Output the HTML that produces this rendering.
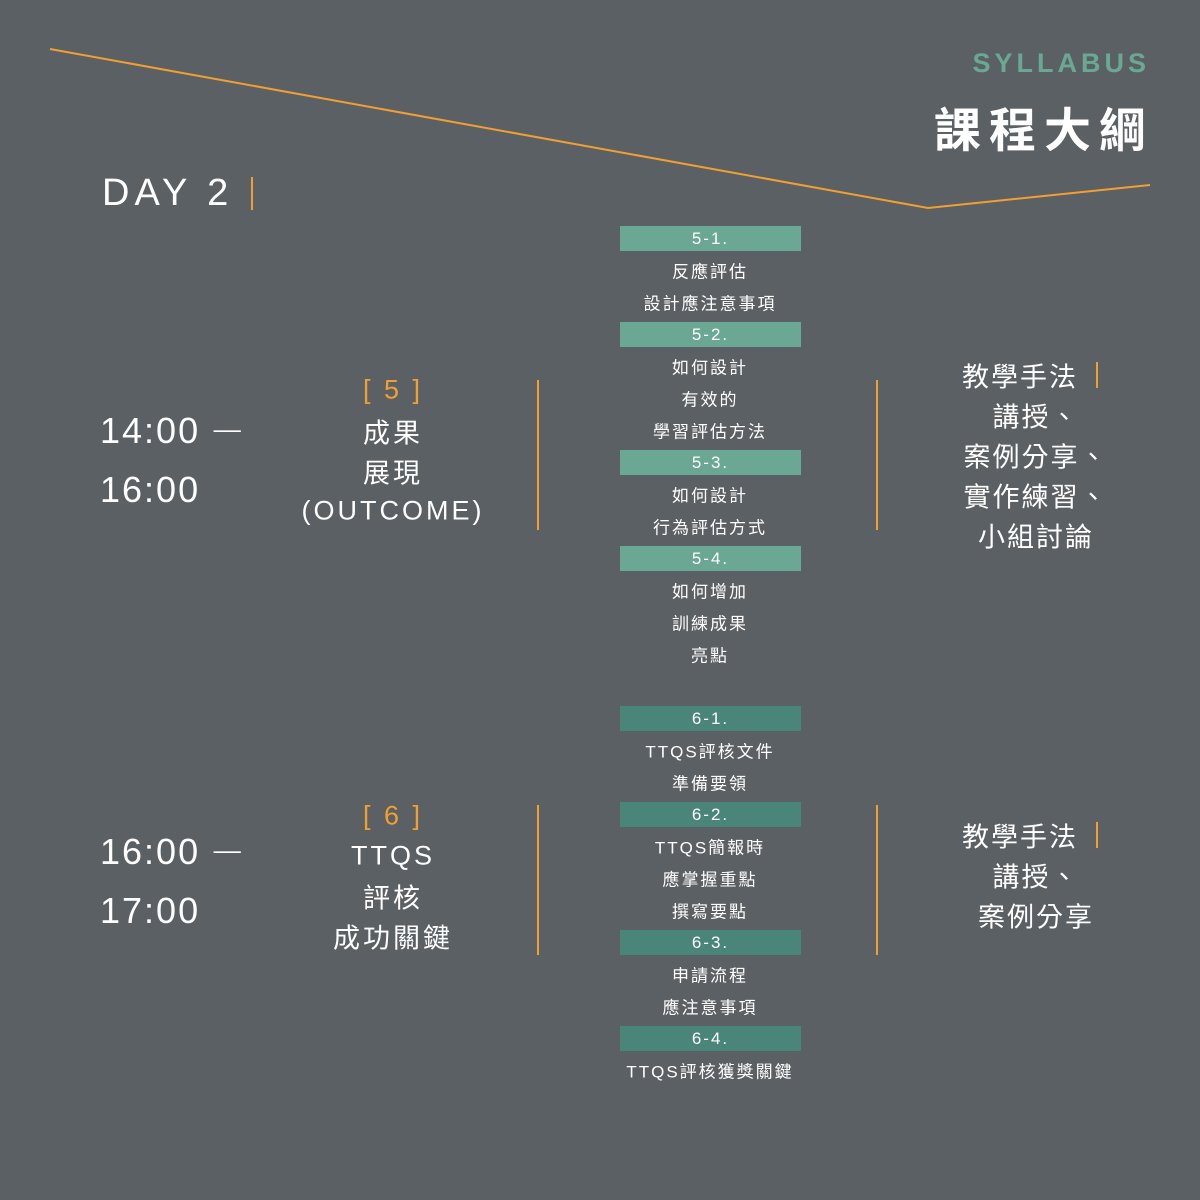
<!DOCTYPE html><html><head><meta charset="utf-8"><style>
body{margin:0;width:1200px;height:1200px;background:#5b6064;position:relative;overflow:hidden;font-family:"Liberation Sans","Noto Sans CJK TC",sans-serif;color:#fff}
.t{position:absolute;transform:translate(-50%,-50%);white-space:nowrap}
.c{font-size:17px;letter-spacing:2px}
.bar{position:absolute;left:620px;width:181px;height:25px;font-size:17px;letter-spacing:2px;text-align:center;line-height:25px}
.g1{background:#6aa893}.g2{background:#4a857a}
.m{font-size:27px;letter-spacing:3px}
.r{font-size:27px;letter-spacing:2px}
.tm{position:absolute;left:100px;font-size:36px;letter-spacing:2px;font-weight:300;transform:translateY(-50%);white-space:nowrap}
.tm span{font-family:"Noto Sans CJK TC",sans-serif;font-size:30px;font-weight:300}
.v{position:absolute;width:2px;background:#f0a030}
</style></head><body>
<svg width="1200" height="1200" style="position:absolute;left:0;top:0"><polyline points="50,49 928,208 1150,185" fill="none" stroke="#f0a030" stroke-width="2"/></svg>
<div style="position:absolute;right:50px;top:48px;font-size:27px;font-weight:bold;letter-spacing:4px;color:#6aa893">SYLLABUS</div>
<div style="position:absolute;right:46px;top:92px;font-size:47px;font-weight:bold;letter-spacing:8px">課程大綱</div>
<div style="position:absolute;left:102px;top:172px;font-size:38px;letter-spacing:5px;font-weight:300">DAY 2</div>
<div class="v" style="left:251px;top:177px;height:33px"></div>

<div class="bar g1" style="top:226px">5-1.</div>
<div class="t c" style="left:710px;top:270px">反應評估</div>
<div class="t c" style="left:710px;top:302px">設計應注意事項</div>
<div class="bar g1" style="top:322px">5-2.</div>
<div class="t c" style="left:710px;top:366px">如何設計</div>
<div class="t c" style="left:710px;top:398px">有效的</div>
<div class="t c" style="left:710px;top:430px">學習評估方法</div>
<div class="bar g1" style="top:450px">5-3.</div>
<div class="t c" style="left:710px;top:494px">如何設計</div>
<div class="t c" style="left:710px;top:526px">行為評估方式</div>
<div class="bar g1" style="top:546px">5-4.</div>
<div class="t c" style="left:710px;top:590px">如何增加</div>
<div class="t c" style="left:710px;top:622px">訓練成果</div>
<div class="t c" style="left:710px;top:654px">亮點</div>

<div class="bar g2" style="top:706px">6-1.</div>
<div class="t c" style="left:710px;top:750px">TTQS評核文件</div>
<div class="t c" style="left:710px;top:782px">準備要領</div>
<div class="bar g2" style="top:802px">6-2.</div>
<div class="t c" style="left:710px;top:846px">TTQS簡報時</div>
<div class="t c" style="left:710px;top:878px">應掌握重點</div>
<div class="t c" style="left:710px;top:910px">撰寫要點</div>
<div class="bar g2" style="top:930px">6-3.</div>
<div class="t c" style="left:710px;top:974px">申請流程</div>
<div class="t c" style="left:710px;top:1006px">應注意事項</div>
<div class="bar g2" style="top:1026px">6-4.</div>
<div class="t c" style="left:710px;top:1070px">TTQS評核獲獎關鍵</div>

<div class="tm" style="top:430px">14:00 <span>一</span></div>
<div class="tm" style="top:490px">16:00</div>
<div class="tm" style="top:851px">16:00 <span>一</span></div>
<div class="tm" style="top:911px">17:00</div>

<div class="t m" style="left:393px;top:390px;color:#f0a030">[ 5 ]</div>
<div class="t m" style="left:393px;top:431px">成果</div>
<div class="t m" style="left:393px;top:471px">展現</div>
<div class="t m" style="left:393px;top:511px">(OUTCOME)</div>
<div class="t m" style="left:393px;top:816px;color:#f0a030">[ 6 ]</div>
<div class="t m" style="left:393px;top:856px">TTQS</div>
<div class="t m" style="left:393px;top:896px">評核</div>
<div class="t m" style="left:393px;top:936px">成功關鍵</div>

<div class="v" style="left:537px;top:380px;height:150px"></div>
<div class="v" style="left:876px;top:380px;height:150px"></div>
<div class="v" style="left:537px;top:805px;height:150px"></div>
<div class="v" style="left:876px;top:805px;height:150px"></div>

<div class="t r" style="left:1020px;top:375px">教學手法</div>
<div class="v" style="left:1096px;top:362px;height:26px"></div>
<div class="t r" style="left:1036px;top:415px">講授、</div>
<div class="t r" style="left:1036px;top:455px">案例分享、</div>
<div class="t r" style="left:1036px;top:495px">實作練習、</div>
<div class="t r" style="left:1036px;top:535px">小組討論</div>
<div class="t r" style="left:1020px;top:835px">教學手法</div>
<div class="v" style="left:1096px;top:822px;height:26px"></div>
<div class="t r" style="left:1036px;top:875px">講授、</div>
<div class="t r" style="left:1036px;top:915px">案例分享</div>
</body></html>
